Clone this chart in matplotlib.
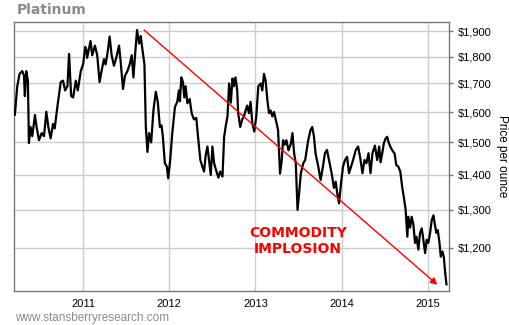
import matplotlib
matplotlib.use("Agg")
import matplotlib.pyplot as plt
from matplotlib.ticker import FixedLocator, FuncFormatter, NullLocator

plt.rcParams["font.family"] = ["Liberation Sans", "DejaVu Sans"]

# platinum spot price, decimal year vs USD per ounce
years = [
    2010.195, 2010.207, 2010.234, 2010.261, 2010.292, 2010.312, 2010.323, 2010.339,
    2010.358, 2010.370, 2010.389, 2010.409, 2010.440, 2010.459, 2010.487, 2010.518,
    2010.545, 2010.572, 2010.595, 2010.622, 2010.650, 2010.669, 2010.700, 2010.739,
    2010.766, 2010.790, 2010.817, 2010.836, 2010.860, 2010.883, 2010.914, 2010.937,
    2010.972, 2011.000, 2011.023, 2011.038,
    2011.046, 2011.085, 2011.105, 2011.136, 2011.163, 2011.190, 2011.213, 2011.241,
    2011.260, 2011.283, 2011.307, 2011.330, 2011.357, 2011.384, 2011.416, 2011.435,
    2011.462, 2011.485, 2011.513, 2011.540, 2011.563, 2011.583, 2011.602, 2011.625,
    2011.649, 2011.668, 2011.688, 2011.711, 2011.727, 2011.746, 2011.765, 2011.789,
    2011.816, 2011.843, 2011.866, 2011.890,
    2011.909, 2011.925, 2011.948, 2011.971, 2011.987, 2012.010, 2012.034, 2012.065,
    2012.092, 2012.111, 2012.123, 2012.139, 2012.158, 2012.174, 2012.189, 2012.209,
    2012.236, 2012.259, 2012.286, 2012.313, 2012.337, 2012.360, 2012.383, 2012.403,
    2012.422, 2012.442, 2012.461, 2012.481, 2012.500, 2012.520, 2012.547, 2012.570,
    2012.590, 2012.617, 2012.636, 2012.656, 2012.675, 2012.694, 2012.714, 2012.733,
    2012.749, 2012.768, 2012.788, 2012.799, 2012.823, 2012.846, 2012.866, 2012.885,
    2012.904, 2012.924, 2012.943, 2012.963, 2012.986, 2013.009, 2013.033, 2013.060,
    2013.079, 2013.099, 2013.118, 2013.138, 2013.157, 2013.176, 2013.196, 2013.215,
    2013.235, 2013.262, 2013.285, 2013.305, 2013.320, 2013.340, 2013.359, 2013.383,
    2013.410, 2013.429, 2013.449, 2013.468, 2013.488, 2013.507, 2013.526, 2013.554,
    2013.577, 2013.600,
    2013.612, 2013.639, 2013.659, 2013.678, 2013.697, 2013.729, 2013.756, 2013.783,
    2013.806, 2013.830, 2013.853, 2013.884, 2013.911, 2013.931, 2013.950, 2013.970,
    2013.993, 2014.016, 2014.039, 2014.063, 2014.086, 2014.109, 2014.133, 2014.164,
    2014.191, 2014.214, 2014.242, 2014.265, 2014.288, 2014.312, 2014.335, 2014.358,
    2014.386, 2014.413, 2014.436,
    2014.452, 2014.471, 2014.490, 2014.510, 2014.529, 2014.549, 2014.568, 2014.588,
    2014.615, 2014.634, 2014.658, 2014.681, 2014.704, 2014.724, 2014.743, 2014.763,
    2014.774, 2014.794, 2014.813, 2014.832, 2014.852, 2014.868, 2014.891, 2014.910,
    2014.930, 2014.949, 2014.969, 2014.988, 2015.007, 2015.027, 2015.046, 2015.066,
    2015.081, 2015.100, 2015.116, 2015.136, 2015.151, 2015.171, 2015.186, 2015.202,
    2015.217,
]
prices = [
    1607, 1590, 1688, 1735, 1745, 1730, 1655, 1745,
    1710, 1498, 1550, 1520, 1590, 1550, 1507, 1530,
    1520, 1601, 1550, 1513, 1560, 1545, 1617, 1705,
    1710, 1675, 1690, 1810, 1655, 1650, 1710, 1675,
    1745, 1772, 1837, 1825,
    1795, 1860, 1805, 1842, 1805, 1705, 1745, 1790,
    1770, 1815, 1878, 1805, 1765, 1795, 1842, 1780,
    1680, 1728, 1745, 1770, 1805, 1722, 1805, 1904,
    1850, 1880, 1825, 1770, 1550, 1470, 1530, 1500,
    1607, 1670, 1635, 1550,
    1555, 1518, 1435, 1425, 1390, 1445, 1530, 1617,
    1635, 1675, 1637, 1722, 1705, 1650, 1690, 1630,
    1645, 1596, 1575, 1580, 1507, 1445, 1425, 1410,
    1460, 1487, 1445, 1400, 1487, 1435, 1410, 1392,
    1410, 1395, 1518, 1555, 1585, 1700, 1632, 1718,
    1690, 1722, 1675, 1596, 1550, 1575, 1585, 1605,
    1622, 1596, 1635, 1562, 1535, 1585, 1690, 1700,
    1675, 1735, 1710, 1640, 1596, 1605, 1585, 1600,
    1575, 1540, 1404, 1445, 1507, 1493, 1507, 1475,
    1495, 1530, 1465, 1435, 1300, 1348, 1404, 1435,
    1445, 1487,
    1507, 1540, 1550, 1520, 1466, 1425, 1385, 1425,
    1466, 1476, 1445, 1405, 1362, 1380, 1345, 1318,
    1375, 1425, 1445, 1455, 1405, 1425, 1445, 1476,
    1487, 1455, 1405, 1445, 1435, 1466, 1405, 1466,
    1490, 1445, 1487,
    1438, 1465, 1497, 1512, 1518, 1497, 1485, 1475,
    1465, 1430, 1425, 1410, 1363, 1332, 1300, 1228,
    1281, 1252, 1281, 1262, 1212, 1228, 1195, 1238,
    1250, 1220, 1186, 1220, 1212, 1238, 1272, 1285,
    1262, 1238, 1245, 1212, 1177, 1190, 1177, 1137,
    1110,
]

year_ticks = [2011, 2012, 2013, 2014, 2015]
price_ticks = [1200, 1300, 1400, 1500, 1600, 1700, 1800, 1900]

# trend arrow endpoints (year, price)
arrow_start = (2011.707, 1904)
arrow_end = (2015.112, 1109)

fig = plt.figure(figsize=(5.1, 3.25), dpi=100)
ax = fig.add_axes([0.028, 0.1055, 0.853, 0.8255])

ax.plot(years, prices, color="black", lw=1.6, zorder=3)

ax.set_yscale("log")
ax.set_xlim(2010.20, 2015.25)
ax.set_ylim(1095, 1935)

ax.yaxis.set_major_locator(FixedLocator(price_ticks))
ax.yaxis.set_minor_locator(NullLocator())
ax.yaxis.set_major_formatter(FuncFormatter(lambda v, p: "${:,.0f}".format(v)))
ax.yaxis.tick_right()
ax.yaxis.set_label_position("right")
ax.set_xticks(year_ticks)
ax.set_xticklabels([str(y) for y in year_ticks])

ax.tick_params(axis="y", length=3, width=1, color="#777777", labelsize=8, pad=3)
ax.tick_params(axis="x", length=0, labelsize=8, pad=6)

ax.grid(True, color="#cccccc", lw=1)
ax.set_axisbelow(True)
for side in ["top", "right", "left", "bottom"]:
    ax.spines[side].set_color("#777777")
    ax.spines[side].set_linewidth(1)

ax.set_ylabel("Price per ounce", rotation=270, fontsize=8.5, labelpad=12)

ax.annotate("", xy=arrow_end, xytext=arrow_start,
            arrowprops=dict(arrowstyle="-|>", color="#ff0000", lw=1,
                            mutation_scale=10, shrinkA=0, shrinkB=0),
            zorder=4)
ax.text(2013.49, 1217, "COMMODITY\nIMPLOSION", color="#ff0000",
        fontsize=10, fontweight="bold", family="DejaVu Sans",
        ha="center", va="center", linespacing=1.15)

fig.text(0.033, 0.97, "Platinum", color="#8a8a8a", fontsize=10,
         fontweight="bold", family="DejaVu Sans", ha="left", va="center")
fig.text(0.029, 0.022, "www.stansberryresearch.com", color="#8c8c8c",
         fontsize=8.5, ha="left", va="center")

fig.savefig("out.png", dpi=100)
